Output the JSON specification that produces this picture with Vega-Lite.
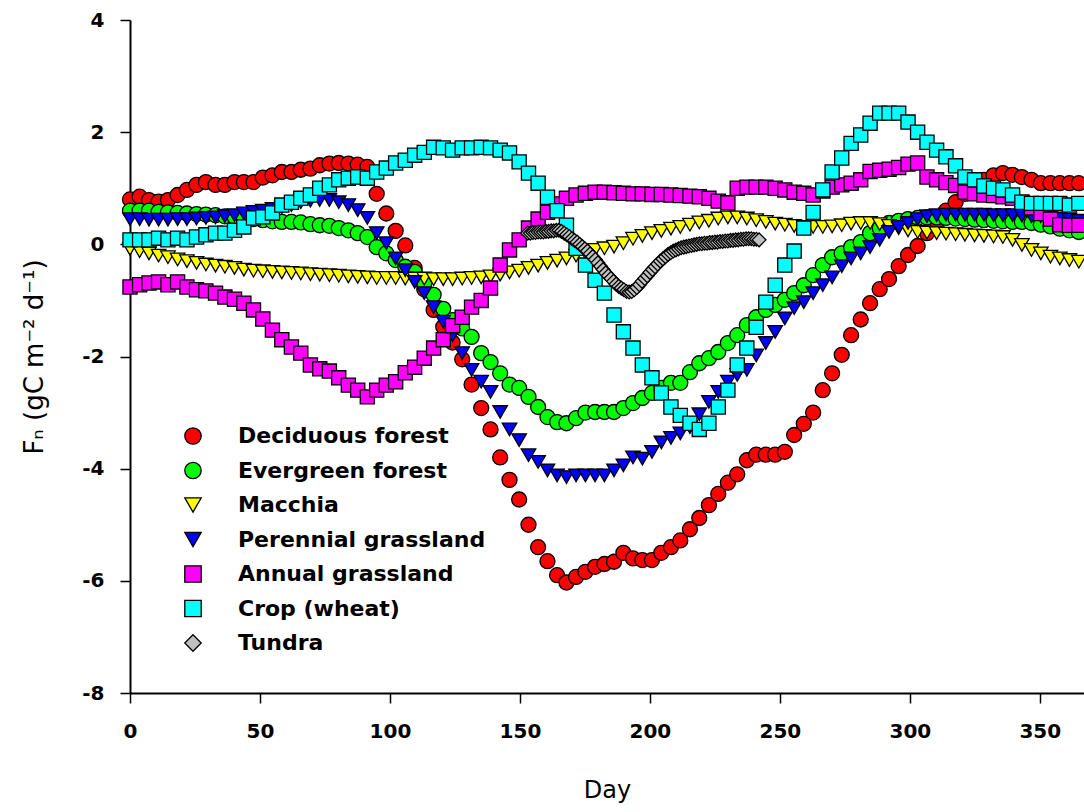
{
  "$schema": "https://vega.github.io/schema/vega-lite/v6.json",
  "width": 954,
  "height": 673,
  "autosize": {"type": "none"},
  "padding": {"left": 130, "top": 20, "right": 0, "bottom": 119},
  "background": "white",
  "datasets": {
    "grid": [
      {"Day":0,"Deciduous forest":0.8,"Evergreen forest":0.6,"Macchia":-0.08,"Perennial grassland":0.45,"Annual grassland":-0.76,"Crop (wheat)":0.08},
      {"Day":3.7,"Deciduous forest":0.85,"Evergreen forest":0.6,"Macchia":-0.12,"Perennial grassland":0.45,"Annual grassland":-0.72,"Crop (wheat)":0.08},
      {"Day":7.3,"Deciduous forest":0.79,"Evergreen forest":0.6,"Macchia":-0.16,"Perennial grassland":0.44,"Annual grassland":-0.69,"Crop (wheat)":0.08},
      {"Day":11,"Deciduous forest":0.76,"Evergreen forest":0.58,"Macchia":-0.2,"Perennial grassland":0.44,"Annual grassland":-0.67,"Crop (wheat)":0.11},
      {"Day":14.6,"Deciduous forest":0.79,"Evergreen forest":0.57,"Macchia":-0.23,"Perennial grassland":0.44,"Annual grassland":-0.72,"Crop (wheat)":0.08},
      {"Day":18.3,"Deciduous forest":0.88,"Evergreen forest":0.56,"Macchia":-0.27,"Perennial grassland":0.45,"Annual grassland":-0.67,"Crop (wheat)":0.11},
      {"Day":21.9,"Deciduous forest":0.97,"Evergreen forest":0.55,"Macchia":-0.3,"Perennial grassland":0.45,"Annual grassland":-0.76,"Crop (wheat)":0.08},
      {"Day":25.6,"Deciduous forest":1.06,"Evergreen forest":0.54,"Macchia":-0.33,"Perennial grassland":0.46,"Annual grassland":-0.81,"Crop (wheat)":0.13},
      {"Day":29.2,"Deciduous forest":1.11,"Evergreen forest":0.53,"Macchia":-0.36,"Perennial grassland":0.47,"Annual grassland":-0.83,"Crop (wheat)":0.17},
      {"Day":32.9,"Deciduous forest":1.06,"Evergreen forest":0.52,"Macchia":-0.38,"Perennial grassland":0.48,"Annual grassland":-0.87,"Crop (wheat)":0.2},
      {"Day":36.5,"Deciduous forest":1.06,"Evergreen forest":0.5,"Macchia":-0.4,"Perennial grassland":0.5,"Annual grassland":-0.94,"Crop (wheat)":0.2},
      {"Day":40.2,"Deciduous forest":1.11,"Evergreen forest":0.49,"Macchia":-0.42,"Perennial grassland":0.52,"Annual grassland":-0.98,"Crop (wheat)":0.25},
      {"Day":43.8,"Deciduous forest":1.11,"Evergreen forest":0.47,"Macchia":-0.45,"Perennial grassland":0.55,"Annual grassland":-1.05,"Crop (wheat)":0.31},
      {"Day":47.5,"Deciduous forest":1.11,"Evergreen forest":0.45,"Macchia":-0.47,"Perennial grassland":0.58,"Annual grassland":-1.17,"Crop (wheat)":0.47},
      {"Day":51.1,"Deciduous forest":1.19,"Evergreen forest":0.43,"Macchia":-0.48,"Perennial grassland":0.6,"Annual grassland":-1.33,"Crop (wheat)":0.49},
      {"Day":54.8,"Deciduous forest":1.23,"Evergreen forest":0.41,"Macchia":-0.49,"Perennial grassland":0.63,"Annual grassland":-1.53,"Crop (wheat)":0.56},
      {"Day":58.4,"Deciduous forest":1.29,"Evergreen forest":0.4,"Macchia":-0.5,"Perennial grassland":0.66,"Annual grassland":-1.7,"Crop (wheat)":0.7},
      {"Day":62.1,"Deciduous forest":1.29,"Evergreen forest":0.4,"Macchia":-0.51,"Perennial grassland":0.7,"Annual grassland":-1.83,"Crop (wheat)":0.75},
      {"Day":65.7,"Deciduous forest":1.33,"Evergreen forest":0.39,"Macchia":-0.52,"Perennial grassland":0.75,"Annual grassland":-1.94,"Crop (wheat)":0.82},
      {"Day":69.4,"Deciduous forest":1.35,"Evergreen forest":0.36,"Macchia":-0.53,"Perennial grassland":0.78,"Annual grassland":-2.15,"Crop (wheat)":0.88},
      {"Day":73,"Deciduous forest":1.41,"Evergreen forest":0.34,"Macchia":-0.54,"Perennial grassland":0.79,"Annual grassland":-2.22,"Crop (wheat)":1.0},
      {"Day":76.7,"Deciduous forest":1.44,"Evergreen forest":0.33,"Macchia":-0.55,"Perennial grassland":0.79,"Annual grassland":-2.26,"Crop (wheat)":1.06},
      {"Day":80.3,"Deciduous forest":1.45,"Evergreen forest":0.29,"Macchia":-0.56,"Perennial grassland":0.75,"Annual grassland":-2.38,"Crop (wheat)":1.15},
      {"Day":84,"Deciduous forest":1.44,"Evergreen forest":0.25,"Macchia":-0.57,"Perennial grassland":0.7,"Annual grassland":-2.51,"Crop (wheat)":1.18},
      {"Day":87.6,"Deciduous forest":1.42,"Evergreen forest":0.2,"Macchia":-0.58,"Perennial grassland":0.61,"Annual grassland":-2.6,"Crop (wheat)":1.2},
      {"Day":91.3,"Deciduous forest":1.38,"Evergreen forest":0.13,"Macchia":-0.59,"Perennial grassland":0.47,"Annual grassland":-2.72,"Crop (wheat)":1.18},
      {"Day":94.9,"Deciduous forest":0.9,"Evergreen forest":-0.05,"Macchia":-0.6,"Perennial grassland":0.2,"Annual grassland":-2.6,"Crop (wheat)":1.29},
      {"Day":98.6,"Deciduous forest":0.55,"Evergreen forest":-0.16,"Macchia":-0.6,"Perennial grassland":0.02,"Annual grassland":-2.51,"Crop (wheat)":1.36},
      {"Day":102.2,"Deciduous forest":0.24,"Evergreen forest":-0.28,"Macchia":-0.6,"Perennial grassland":-0.25,"Annual grassland":-2.45,"Crop (wheat)":1.45},
      {"Day":105.9,"Deciduous forest":-0.02,"Evergreen forest":-0.4,"Macchia":-0.61,"Perennial grassland":-0.46,"Annual grassland":-2.29,"Crop (wheat)":1.5},
      {"Day":109.5,"Deciduous forest":-0.42,"Evergreen forest":-0.49,"Macchia":-0.61,"Perennial grassland":-0.67,"Annual grassland":-2.19,"Crop (wheat)":1.59},
      {"Day":113.2,"Deciduous forest":-0.8,"Evergreen forest":-0.7,"Macchia":-0.61,"Perennial grassland":-0.87,"Annual grassland":-2.03,"Crop (wheat)":1.64},
      {"Day":116.8,"Deciduous forest":-1.17,"Evergreen forest":-0.9,"Macchia":-0.62,"Perennial grassland":-1.12,"Annual grassland":-1.85,"Crop (wheat)":1.73},
      {"Day":120.5,"Deciduous forest":-1.47,"Evergreen forest":-1.15,"Macchia":-0.62,"Perennial grassland":-1.38,"Annual grassland":-1.7,"Crop (wheat)":1.72},
      {"Day":124.1,"Deciduous forest":-1.75,"Evergreen forest":-1.35,"Macchia":-0.62,"Perennial grassland":-1.62,"Annual grassland":-1.45,"Crop (wheat)":1.68},
      {"Day":127.8,"Deciduous forest":-2.05,"Evergreen forest":-1.5,"Macchia":-0.61,"Perennial grassland":-1.94,"Annual grassland":-1.3,"Crop (wheat)":1.72},
      {"Day":131.4,"Deciduous forest":-2.5,"Evergreen forest":-1.65,"Macchia":-0.6,"Perennial grassland":-2.24,"Annual grassland":-1.12,"Crop (wheat)":1.72},
      {"Day":135.1,"Deciduous forest":-2.92,"Evergreen forest":-1.94,"Macchia":-0.59,"Perennial grassland":-2.45,"Annual grassland":-1.0,"Crop (wheat)":1.73},
      {"Day":138.7,"Deciduous forest":-3.3,"Evergreen forest":-2.1,"Macchia":-0.57,"Perennial grassland":-2.63,"Annual grassland":-0.78,"Crop (wheat)":1.72},
      {"Day":142.4,"Deciduous forest":-3.8,"Evergreen forest":-2.3,"Macchia":-0.54,"Perennial grassland":-2.99,"Annual grassland":-0.37,"Crop (wheat)":1.68},
      {"Day":146,"Deciduous forest":-4.2,"Evergreen forest":-2.5,"Macchia":-0.5,"Perennial grassland":-3.3,"Annual grassland":-0.1,"Crop (wheat)":1.63},
      {"Day":149.7,"Deciduous forest":-4.55,"Evergreen forest":-2.56,"Macchia":-0.47,"Perennial grassland":-3.49,"Annual grassland":0.08,"Crop (wheat)":1.47},
      {"Day":153.3,"Deciduous forest":-5.0,"Evergreen forest":-2.72,"Macchia":-0.42,"Perennial grassland":-3.76,"Annual grassland":0.29,"Crop (wheat)":1.27},
      {"Day":157,"Deciduous forest":-5.4,"Evergreen forest":-2.9,"Macchia":-0.38,"Perennial grassland":-3.88,"Annual grassland":0.45,"Crop (wheat)":1.09},
      {"Day":160.6,"Deciduous forest":-5.65,"Evergreen forest":-3.08,"Macchia":-0.33,"Perennial grassland":-4.03,"Annual grassland":0.57,"Crop (wheat)":0.84},
      {"Day":164.3,"Deciduous forest":-5.9,"Evergreen forest":-3.17,"Macchia":-0.29,"Perennial grassland":-4.12,"Annual grassland":0.72,"Crop (wheat)":0.6},
      {"Day":167.9,"Deciduous forest":-6.03,"Evergreen forest":-3.19,"Macchia":-0.25,"Perennial grassland":-4.15,"Annual grassland":0.82,"Crop (wheat)":0.34},
      {"Day":171.6,"Deciduous forest":-5.93,"Evergreen forest":-3.1,"Macchia":-0.2,"Perennial grassland":-4.12,"Annual grassland":0.88,"Crop (wheat)":-0.07},
      {"Day":175.2,"Deciduous forest":-5.84,"Evergreen forest":-3.0,"Macchia":-0.15,"Perennial grassland":-4.12,"Annual grassland":0.91,"Crop (wheat)":-0.37},
      {"Day":178.9,"Deciduous forest":-5.75,"Evergreen forest":-2.99,"Macchia":-0.1,"Perennial grassland":-4.12,"Annual grassland":0.93,"Crop (wheat)":-0.64},
      {"Day":182.5,"Deciduous forest":-5.7,"Evergreen forest":-2.99,"Macchia":-0.07,"Perennial grassland":-4.12,"Annual grassland":0.93,"Crop (wheat)":-0.87},
      {"Day":186.2,"Deciduous forest":-5.66,"Evergreen forest":-2.99,"Macchia":-0.04,"Perennial grassland":-4.03,"Annual grassland":0.92,"Crop (wheat)":-1.26},
      {"Day":189.8,"Deciduous forest":-5.5,"Evergreen forest":-2.92,"Macchia":0.02,"Perennial grassland":-3.94,"Annual grassland":0.91,"Crop (wheat)":-1.56},
      {"Day":193.5,"Deciduous forest":-5.6,"Evergreen forest":-2.83,"Macchia":0.1,"Perennial grassland":-3.8,"Annual grassland":0.9,"Crop (wheat)":-1.85},
      {"Day":197.1,"Deciduous forest":-5.63,"Evergreen forest":-2.74,"Macchia":0.15,"Perennial grassland":-3.82,"Annual grassland":0.9,"Crop (wheat)":-2.15},
      {"Day":200.8,"Deciduous forest":-5.63,"Evergreen forest":-2.65,"Macchia":0.2,"Perennial grassland":-3.7,"Annual grassland":0.89,"Crop (wheat)":-2.38},
      {"Day":204.4,"Deciduous forest":-5.5,"Evergreen forest":-2.56,"Macchia":0.24,"Perennial grassland":-3.53,"Annual grassland":0.89,"Crop (wheat)":-2.65},
      {"Day":208.1,"Deciduous forest":-5.4,"Evergreen forest":-2.47,"Macchia":0.28,"Perennial grassland":-3.45,"Annual grassland":0.88,"Crop (wheat)":-2.9},
      {"Day":211.7,"Deciduous forest":-5.28,"Evergreen forest":-2.47,"Macchia":0.31,"Perennial grassland":-3.37,"Annual grassland":0.87,"Crop (wheat)":-3.05},
      {"Day":215.4,"Deciduous forest":-5.08,"Evergreen forest":-2.28,"Macchia":0.35,"Perennial grassland":-3.26,"Annual grassland":0.86,"Crop (wheat)":-3.19},
      {"Day":219,"Deciduous forest":-4.88,"Evergreen forest":-2.12,"Macchia":0.39,"Perennial grassland":-3.03,"Annual grassland":0.85,"Crop (wheat)":-3.3},
      {"Day":222.7,"Deciduous forest":-4.65,"Evergreen forest":-2.03,"Macchia":0.42,"Perennial grassland":-2.81,"Annual grassland":0.82,"Crop (wheat)":-3.19},
      {"Day":226.3,"Deciduous forest":-4.45,"Evergreen forest":-1.92,"Macchia":0.46,"Perennial grassland":-2.63,"Annual grassland":0.77,"Crop (wheat)":-2.9},
      {"Day":230,"Deciduous forest":-4.25,"Evergreen forest":-1.76,"Macchia":0.48,"Perennial grassland":-2.45,"Annual grassland":0.74,"Crop (wheat)":-2.6},
      {"Day":233.6,"Deciduous forest":-4.1,"Evergreen forest":-1.62,"Macchia":0.48,"Perennial grassland":-2.33,"Annual grassland":1.0,"Crop (wheat)":-2.15},
      {"Day":237.3,"Deciduous forest":-3.85,"Evergreen forest":-1.44,"Macchia":0.46,"Perennial grassland":-2.24,"Annual grassland":1.02,"Crop (wheat)":-1.85},
      {"Day":240.9,"Deciduous forest":-3.75,"Evergreen forest":-1.3,"Macchia":0.43,"Perennial grassland":-1.98,"Annual grassland":1.02,"Crop (wheat)":-1.48},
      {"Day":244.6,"Deciduous forest":-3.75,"Evergreen forest":-1.17,"Macchia":0.4,"Perennial grassland":-1.76,"Annual grassland":1.02,"Crop (wheat)":-1.03},
      {"Day":248.2,"Deciduous forest":-3.75,"Evergreen forest":-1.08,"Macchia":0.37,"Perennial grassland":-1.56,"Annual grassland":1.0,"Crop (wheat)":-0.73},
      {"Day":251.9,"Deciduous forest":-3.7,"Evergreen forest":-0.99,"Macchia":0.35,"Perennial grassland":-1.32,"Annual grassland":0.97,"Crop (wheat)":-0.37},
      {"Day":255.5,"Deciduous forest":-3.4,"Evergreen forest":-0.87,"Macchia":0.33,"Perennial grassland":-1.14,"Annual grassland":0.93,"Crop (wheat)":-0.12},
      {"Day":259.2,"Deciduous forest":-3.2,"Evergreen forest":-0.73,"Macchia":0.31,"Perennial grassland":-1.03,"Annual grassland":0.91,"Crop (wheat)":0.29},
      {"Day":262.8,"Deciduous forest":-3.0,"Evergreen forest":-0.55,"Macchia":0.31,"Perennial grassland":-0.87,"Annual grassland":0.88,"Crop (wheat)":0.57},
      {"Day":266.5,"Deciduous forest":-2.6,"Evergreen forest":-0.37,"Macchia":0.31,"Perennial grassland":-0.73,"Annual grassland":0.95,"Crop (wheat)":0.97},
      {"Day":270.1,"Deciduous forest":-2.3,"Evergreen forest":-0.23,"Macchia":0.32,"Perennial grassland":-0.59,"Annual grassland":1.02,"Crop (wheat)":1.29},
      {"Day":273.8,"Deciduous forest":-1.97,"Evergreen forest":-0.16,"Macchia":0.34,"Perennial grassland":-0.39,"Annual grassland":1.06,"Crop (wheat)":1.54},
      {"Day":277.4,"Deciduous forest":-1.62,"Evergreen forest":-0.05,"Macchia":0.37,"Perennial grassland":-0.25,"Annual grassland":1.09,"Crop (wheat)":1.8},
      {"Day":281.1,"Deciduous forest":-1.34,"Evergreen forest":0.04,"Macchia":0.38,"Perennial grassland":-0.16,"Annual grassland":1.15,"Crop (wheat)":1.95},
      {"Day":284.7,"Deciduous forest":-1.05,"Evergreen forest":0.2,"Macchia":0.38,"Perennial grassland":-0.05,"Annual grassland":1.3,"Crop (wheat)":2.16},
      {"Day":288.4,"Deciduous forest":-0.8,"Evergreen forest":0.29,"Macchia":0.36,"Perennial grassland":0.08,"Annual grassland":1.32,"Crop (wheat)":2.34},
      {"Day":292,"Deciduous forest":-0.62,"Evergreen forest":0.38,"Macchia":0.33,"Perennial grassland":0.22,"Annual grassland":1.34,"Crop (wheat)":2.34},
      {"Day":295.7,"Deciduous forest":-0.39,"Evergreen forest":0.42,"Macchia":0.29,"Perennial grassland":0.31,"Annual grassland":1.37,"Crop (wheat)":2.34},
      {"Day":299.3,"Deciduous forest":-0.19,"Evergreen forest":0.45,"Macchia":0.25,"Perennial grassland":0.38,"Annual grassland":1.43,"Crop (wheat)":2.18},
      {"Day":303,"Deciduous forest":-0.03,"Evergreen forest":0.47,"Macchia":0.22,"Perennial grassland":0.45,"Annual grassland":1.45,"Crop (wheat)":2.0},
      {"Day":306.6,"Deciduous forest":0.2,"Evergreen forest":0.48,"Macchia":0.21,"Perennial grassland":0.5,"Annual grassland":1.2,"Crop (wheat)":1.82},
      {"Day":310.3,"Deciduous forest":0.4,"Evergreen forest":0.48,"Macchia":0.2,"Perennial grassland":0.52,"Annual grassland":1.15,"Crop (wheat)":1.68},
      {"Day":313.9,"Deciduous forest":0.6,"Evergreen forest":0.47,"Macchia":0.19,"Perennial grassland":0.53,"Annual grassland":1.1,"Crop (wheat)":1.56},
      {"Day":317.6,"Deciduous forest":0.75,"Evergreen forest":0.46,"Macchia":0.18,"Perennial grassland":0.53,"Annual grassland":1.05,"Crop (wheat)":1.4},
      {"Day":321.2,"Deciduous forest":0.9,"Evergreen forest":0.45,"Macchia":0.17,"Perennial grassland":0.53,"Annual grassland":0.93,"Crop (wheat)":1.2},
      {"Day":324.9,"Deciduous forest":1.05,"Evergreen forest":0.44,"Macchia":0.16,"Perennial grassland":0.53,"Annual grassland":0.9,"Crop (wheat)":1.15},
      {"Day":328.5,"Deciduous forest":1.15,"Evergreen forest":0.43,"Macchia":0.15,"Perennial grassland":0.53,"Annual grassland":0.88,"Crop (wheat)":1.04},
      {"Day":332.2,"Deciduous forest":1.23,"Evergreen forest":0.42,"Macchia":0.14,"Perennial grassland":0.52,"Annual grassland":0.87,"Crop (wheat)":1.0},
      {"Day":335.8,"Deciduous forest":1.27,"Evergreen forest":0.41,"Macchia":0.13,"Perennial grassland":0.52,"Annual grassland":0.85,"Crop (wheat)":0.97},
      {"Day":339.5,"Deciduous forest":1.24,"Evergreen forest":0.4,"Macchia":0.08,"Perennial grassland":0.52,"Annual grassland":0.82,"Crop (wheat)":0.88},
      {"Day":343.1,"Deciduous forest":1.2,"Evergreen forest":0.4,"Macchia":-0.01,"Perennial grassland":0.51,"Annual grassland":0.75,"Crop (wheat)":0.75},
      {"Day":346.8,"Deciduous forest":1.15,"Evergreen forest":0.38,"Macchia":-0.1,"Perennial grassland":0.5,"Annual grassland":0.65,"Crop (wheat)":0.73},
      {"Day":350.4,"Deciduous forest":1.09,"Evergreen forest":0.35,"Macchia":-0.16,"Perennial grassland":0.5,"Annual grassland":0.55,"Crop (wheat)":0.73},
      {"Day":354.1,"Deciduous forest":1.09,"Evergreen forest":0.32,"Macchia":-0.22,"Perennial grassland":0.48,"Annual grassland":0.45,"Crop (wheat)":0.73},
      {"Day":357.7,"Deciduous forest":1.09,"Evergreen forest":0.28,"Macchia":-0.25,"Perennial grassland":0.46,"Annual grassland":0.35,"Crop (wheat)":0.73},
      {"Day":361.4,"Deciduous forest":1.09,"Evergreen forest":0.25,"Macchia":-0.28,"Perennial grassland":0.44,"Annual grassland":0.34,"Crop (wheat)":0.7},
      {"Day":365,"Deciduous forest":1.09,"Evergreen forest":0.22,"Macchia":-0.31,"Perennial grassland":0.42,"Annual grassland":0.34,"Crop (wheat)":0.73}
    ],
    "tundra": [
      {"Day":153,"Tundra":0.2},{"Day":154,"Tundra":0.2},{"Day":155,"Tundra":0.21},{"Day":156,"Tundra":0.21},
      {"Day":157,"Tundra":0.22},{"Day":158,"Tundra":0.22},{"Day":159,"Tundra":0.22},{"Day":160,"Tundra":0.23},
      {"Day":161,"Tundra":0.23},{"Day":162,"Tundra":0.24},{"Day":163,"Tundra":0.24},{"Day":164,"Tundra":0.25},
      {"Day":165,"Tundra":0.25},{"Day":166,"Tundra":0.23},{"Day":167,"Tundra":0.2},{"Day":168,"Tundra":0.17},
      {"Day":169,"Tundra":0.14},{"Day":170,"Tundra":0.1},{"Day":171,"Tundra":0.07},{"Day":172,"Tundra":0.04},
      {"Day":173,"Tundra":0.0},{"Day":174,"Tundra":-0.04},{"Day":175,"Tundra":-0.08},{"Day":176,"Tundra":-0.12},
      {"Day":177,"Tundra":-0.17},{"Day":178,"Tundra":-0.22},{"Day":179,"Tundra":-0.27},{"Day":180,"Tundra":-0.33},
      {"Day":181,"Tundra":-0.39},{"Day":182,"Tundra":-0.45},{"Day":183,"Tundra":-0.51},{"Day":184,"Tundra":-0.56},
      {"Day":185,"Tundra":-0.61},{"Day":186,"Tundra":-0.66},{"Day":187,"Tundra":-0.71},{"Day":188,"Tundra":-0.75},
      {"Day":189,"Tundra":-0.78},{"Day":190,"Tundra":-0.81},{"Day":191,"Tundra":-0.84},{"Day":192,"Tundra":-0.85},
      {"Day":193,"Tundra":-0.84},{"Day":194,"Tundra":-0.81},{"Day":195,"Tundra":-0.77},{"Day":196,"Tundra":-0.72},
      {"Day":197,"Tundra":-0.66},{"Day":198,"Tundra":-0.61},{"Day":199,"Tundra":-0.56},{"Day":200,"Tundra":-0.5},
      {"Day":201,"Tundra":-0.45},{"Day":202,"Tundra":-0.4},{"Day":203,"Tundra":-0.35},{"Day":204,"Tundra":-0.3},
      {"Day":205,"Tundra":-0.26},{"Day":206,"Tundra":-0.22},{"Day":207,"Tundra":-0.18},{"Day":208,"Tundra":-0.15},
      {"Day":209,"Tundra":-0.12},{"Day":210,"Tundra":-0.1},{"Day":211,"Tundra":-0.08},{"Day":212,"Tundra":-0.06},
      {"Day":213,"Tundra":-0.05},{"Day":214,"Tundra":-0.04},{"Day":215,"Tundra":-0.03},{"Day":216,"Tundra":-0.02},
      {"Day":217,"Tundra":-0.01},{"Day":218,"Tundra":0.0},{"Day":219,"Tundra":0.01},{"Day":220,"Tundra":0.01},
      {"Day":221,"Tundra":0.02},{"Day":222,"Tundra":0.02},{"Day":223,"Tundra":0.03},{"Day":224,"Tundra":0.03},
      {"Day":225,"Tundra":0.04},{"Day":226,"Tundra":0.04},{"Day":227,"Tundra":0.05},{"Day":228,"Tundra":0.05},
      {"Day":229,"Tundra":0.06},{"Day":230,"Tundra":0.06},{"Day":231,"Tundra":0.07},{"Day":232,"Tundra":0.07},
      {"Day":233,"Tundra":0.08},{"Day":234,"Tundra":0.08},{"Day":235,"Tundra":0.09},{"Day":236,"Tundra":0.09},
      {"Day":237,"Tundra":0.1},{"Day":238,"Tundra":0.1},{"Day":239,"Tundra":0.1},{"Day":240,"Tundra":0.09},
      {"Day":241,"Tundra":0.09},{"Day":242,"Tundra":0.08}
    ]
  },
  "encoding": {
    "x": {
      "field": "Day", "type": "quantitative",
      "scale": {"domain": [0, 367], "nice": false, "zero": false},
      "axis": {"values": [0, 50, 100, 150, 200, 250, 300, 350], "title": "Day"}
    },
    "y": {
      "field": "v", "type": "quantitative",
      "scale": {"domain": [-8, 4], "nice": false, "zero": false},
      "axis": {"values": [-8, -6, -4, -2, 0, 2, 4], "title": "Fₙ (gC m⁻² d⁻¹)", "labelExpr": "'' + datum.value"}
    },
    "color": {
      "field": "series", "type": "nominal",
      "scale": {
        "domain": ["Deciduous forest", "Evergreen forest", "Macchia", "Perennial grassland", "Annual grassland", "Crop (wheat)", "Tundra"],
        "range": ["#FF0000", "#00FF00", "#FFFF00", "#0000FF", "#FF00FF", "#00FFFF", "#C0C0C0"]
      },
      "legend": {"title": null}
    },
    "shape": {
      "field": "series", "type": "nominal",
      "scale": {
        "domain": ["Deciduous forest", "Evergreen forest", "Macchia", "Perennial grassland", "Annual grassland", "Crop (wheat)", "Tundra"],
        "range": ["circle", "circle", "triangle-down", "triangle-down", "square", "square", "diamond"]
      },
      "legend": {"title": null}
    }
  },
  "layer": [
    {"data": {"name": "grid"}, "transform": [{"fold": ["Deciduous forest"], "as": ["series", "v"]}],
     "mark": {"type": "point", "filled": true, "size": 225, "stroke": "black", "strokeWidth": 1.3, "opacity": 1}},
    {"data": {"name": "grid"}, "transform": [{"fold": ["Evergreen forest"], "as": ["series", "v"]}],
     "mark": {"type": "point", "filled": true, "size": 225, "stroke": "black", "strokeWidth": 1.3, "opacity": 1}},
    {"data": {"name": "grid"}, "transform": [{"fold": ["Macchia"], "as": ["series", "v"]}],
     "mark": {"type": "point", "filled": true, "size": 210, "stroke": "black", "strokeWidth": 1.3, "opacity": 1}},
    {"data": {"name": "grid"}, "transform": [{"fold": ["Perennial grassland"], "as": ["series", "v"]}],
     "mark": {"type": "point", "filled": true, "size": 210, "stroke": "black", "strokeWidth": 1.3, "opacity": 1}},
    {"data": {"name": "grid"}, "transform": [{"fold": ["Annual grassland"], "as": ["series", "v"]}],
     "mark": {"type": "point", "filled": true, "size": 200, "stroke": "black", "strokeWidth": 1.3, "opacity": 1}},
    {"data": {"name": "grid"}, "transform": [{"fold": ["Crop (wheat)"], "as": ["series", "v"]}],
     "mark": {"type": "point", "filled": true, "size": 200, "stroke": "black", "strokeWidth": 1.3, "opacity": 1}},
    {"data": {"name": "tundra"}, "transform": [{"fold": ["Tundra"], "as": ["series", "v"]}],
     "mark": {"type": "point", "filled": true, "size": 190, "stroke": "black", "strokeWidth": 1.3, "opacity": 1}}
  ],
  "config": {
    "view": {"stroke": null},
    "axis": {
      "grid": false, "domainColor": "black", "domainWidth": 2, "tickColor": "black", "tickWidth": 1.5, "tickSize": 10,
      "labelFont": "DejaVu Sans", "labelFontWeight": "bold", "labelFontSize": 20, "labelColor": "black",
      "titleFont": "DejaVu Sans", "titleFontWeight": "normal", "titleFontSize": 24, "titleColor": "black",
      "labelFlush": false, "labelOverlap": false
    },
    "axisX": {"labelPadding": 18, "titlePadding": 37},
    "axisY": {"labelPadding": 16, "titlePadding": 34, "titleFontSize": 26},
    "legend": {
      "orient": "none", "legendX": 52, "legendY": 405, "padding": 0,
      "labelFont": "DejaVu Sans", "labelFontWeight": "bold", "labelFontSize": 22, "labelColor": "black",
      "labelLimit": 0,
      "symbolSize": 270, "symbolStrokeColor": "black", "symbolStrokeWidth": 1.3,
      "rowPadding": 12.5, "labelOffset": 34
    }
  }
}
